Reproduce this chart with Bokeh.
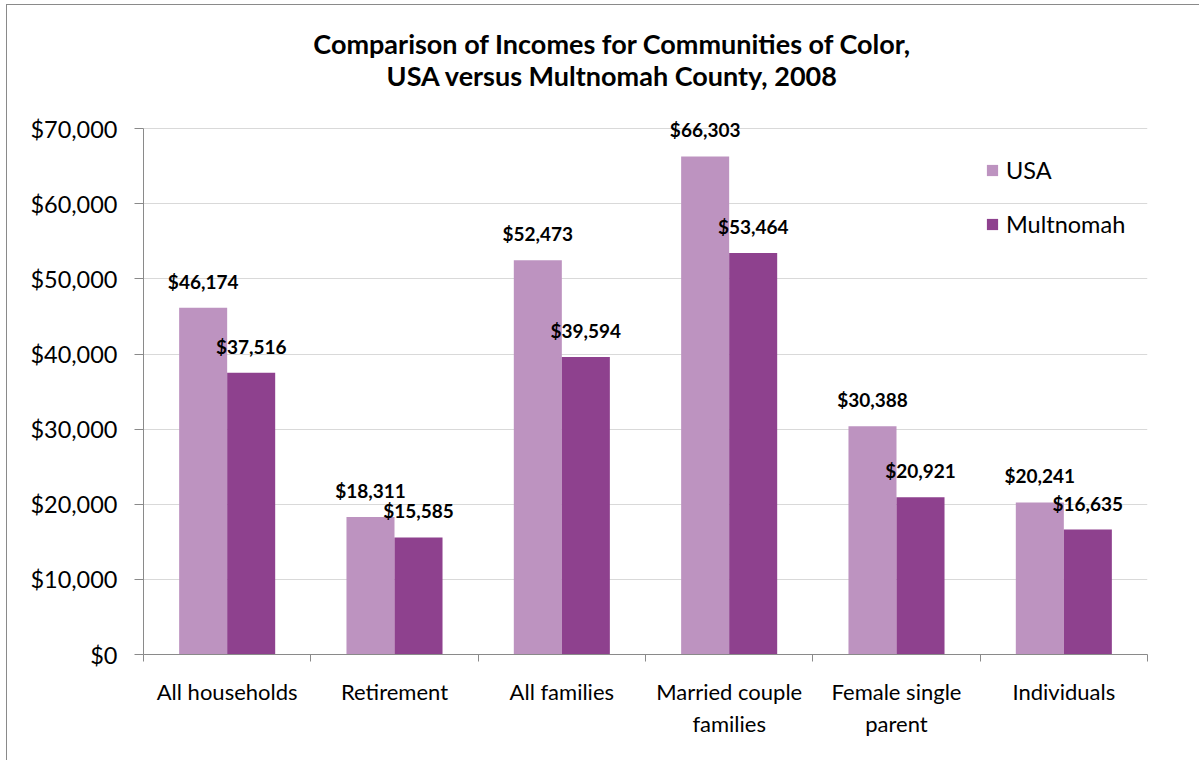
from bokeh.plotting import figure
from bokeh.models import (FixedTicker, NumeralTickFormatter, ColumnDataSource, Legend, LegendItem,
                          Range1d, Label)
from bokeh.core.properties import value
from bokeh.embed import file_html
from bokeh.resources import INLINE

categories = ["All households", "Retirement", "All families", "Married couple\nfamilies", "Female single\nparent", "Individuals"]
usa = [46174, 18311, 52473, 66303, 30388, 20241]
multnomah = [37516, 15585, 39594, 53464, 20921, 16635]
series_names = ["USA", "Multnomah"]
title_lines = ["Comparison of Incomes for Communities of Color,", "USA versus Multnomah County, 2008"]
y_ticks = [0, 10000, 20000, 30000, 40000, 50000, 60000, 70000]

FONT = "Lato"
C_USA = "#bd93c0"
C_MULT = "#8e418e"
BAR_W = 0.287
OFF = 0.1435
AXIS_MAX = 70000
VIEW_TOP = 86400   # frame extends above the axis so the title and top label are not clipped

n = len(categories)
centers = [i + 0.5 for i in range(n)]
bounds = [float(i) for i in range(n + 1)]

def fmt(v):
    return "${:,}".format(v)

src_usa = ColumnDataSource(dict(x=[c - OFF for c in centers], top=usa, label=[fmt(v) for v in usa]))
src_mul = ColumnDataSource(dict(x=[c + OFF for c in centers], top=multnomah, label=[fmt(v) for v in multnomah]))

p = figure(width=1193, height=756, output_backend="svg", toolbar_location=None,
           x_range=Range1d(0, n), y_range=Range1d(0, VIEW_TOP),
           min_border_left=136, min_border_right=53, min_border_top=0, min_border_bottom=107)
p.styles = {"border-left": "1px solid #8a8a8a", "border-top": "1px solid #8a8a8a",
            "margin-left": "6px", "margin-top": "4px"}
p.outline_line_color = None
p.title = None

# title lines (screen units relative to the plot frame)
for line, sy in zip(title_lines, (611, 579)):
    p.add_layout(Label(x=469, y=sy, x_units="screen", y_units="screen", text=line,
                       text_align="center", text_baseline="middle", text_font=FONT,
                       text_font_size="27px", text_font_style="bold", text_color="#000000"))

r1 = p.vbar(x="x", top="top", width=BAR_W, source=src_usa, fill_color=C_USA, line_color=None)
r2 = p.vbar(x="x", top="top", width=BAR_W, source=src_mul, fill_color=C_MULT, line_color=None)

for s in (src_usa, src_mul):
    p.text(x="x", y="top", text="label", source=s, text_align="center", text_baseline="bottom",
           y_offset=-15, text_font=value(FONT), text_font_size="19px", text_font_style="bold",
           text_color="#000000")

# y axis
ya = p.yaxis[0]
ya.bounds = (0, AXIS_MAX)
ya.ticker = FixedTicker(ticks=y_ticks, minor_ticks=[])
ya.formatter = NumeralTickFormatter(format="$0,0")
ya.major_label_text_font = FONT
ya.major_label_text_font_size = "23.5px"
ya.major_label_text_color = "#000000"
ya.axis_line_color = "#8a8a8a"
ya.major_tick_line_color = "#8a8a8a"
ya.major_tick_out = 9
ya.major_tick_in = 0
ya.major_label_standoff = 17

# x axis
xa = p.xaxis[0]
xa.ticker = FixedTicker(ticks=centers, minor_ticks=bounds)
xa.major_label_overrides = {c: cat for c, cat in zip(centers, categories)}
xa.major_label_text_font = FONT
xa.major_label_text_font_size = "22px"
xa.major_label_text_color = "#000000"
xa.axis_line_color = "#8a8a8a"
xa.major_tick_line_color = None
xa.major_tick_out = 0
xa.major_tick_in = 0
xa.minor_tick_line_color = "#8a8a8a"
xa.minor_tick_out = 7
xa.minor_tick_in = 0
xa.major_label_standoff = 16

p.xgrid.grid_line_color = None
p.ygrid.grid_line_color = "#d9d9d9"
p.ygrid.ticker = FixedTicker(ticks=y_ticks)

legend = Legend(items=[LegendItem(label=series_names[0], renderers=[r1]),
                       LegendItem(label=series_names[1], renderers=[r2])],
                location=(842, 416), orientation="vertical")
legend.background_fill_alpha = 0
legend.border_line_color = None
legend.padding = 0
legend.margin = 0
legend.spacing = 26
legend.glyph_width = 14
legend.glyph_height = 14
legend.label_height = 24
legend.label_standoff = 7
legend.label_text_font = FONT
legend.label_text_font_size = "23.5px"
legend.label_text_color = "#000000"
p.add_layout(legend, "center")

open("out.html", "w").write(file_html(p, INLINE))
